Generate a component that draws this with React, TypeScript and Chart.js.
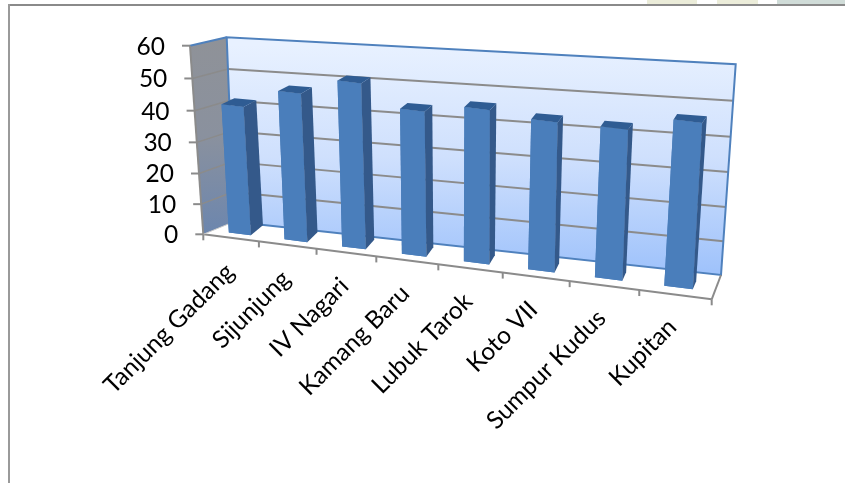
import React, { useEffect, useRef } from "react";
import { Chart, registerables } from "chart.js";

Chart.register(...registerables);

const categories = ["Tanjung Gadang", "Sijunjung", "IV Nagari", "Kamang Baru", "Lubuk Tarok", "Koto VII", "Sumpur Kudus", "Kupitan"];
const values = [41.5, 47, 51.5, 44.5, 46.5, 44.5, 44, 47.5];
const yTicks = [0, 10, 20, 30, 40, 50, 60];

type P = [number, number];
type Quad = { bl: P; br: P; tr: P; tl: P };

const floorFront: Quad = { bl: [203.3, 234.3], br: [711.7, 299.3], tr: [726.7, 82], tl: [190, 45.7] };
const wallBack: Quad = { bl: [234, 221.7], br: [721, 275], tr: [735.7, 64.3], tl: [226.7, 37.3] };
const lerp = (a: P, b: P, t: number): P => [a[0] + (b[0] - a[0]) * t, a[1] + (b[1] - a[1]) * t];
const barFront: Quad = {
  bl: lerp(floorFront.bl, wallBack.bl, 0.3),
  br: lerp(floorFront.br, wallBack.br, 0.3),
  tr: lerp(floorFront.tr, wallBack.tr, 0.3),
  tl: lerp(floorFront.tl, wallBack.tl, 0.3),
};
const add = (a: P, dx: number, dy: number): P => [a[0] + dx, a[1] + dy];
const barBack: Quad = {
  bl: add(barFront.bl, 13.5, -10),
  br: add(barFront.br, 3.3, -8),
  tr: add(barFront.tr, 3.5, -5),
  tl: add(barFront.tl, 13.5, -4),
};

function homography(q: Quad) {
  const [x0, y0] = q.bl, [x1, y1] = q.br, [x2, y2] = q.tr, [x3, y3] = q.tl;
  const dx1 = x1 - x2, dx2 = x3 - x2, sx = x0 - x1 + x2 - x3;
  const dy1 = y1 - y2, dy2 = y3 - y2, sy = y0 - y1 + y2 - y3;
  const den = dx1 * dy2 - dx2 * dy1;
  const g = (sx * dy2 - dx2 * sy) / den;
  const h = (dx1 * sy - sx * dy1) / den;
  const a = x1 - x0 + g * x1, b = x3 - x0 + h * x3, c = x0;
  const d = y1 - y0 + g * y1, e = y3 - y0 + h * y3, f = y0;
  return (u: number, v: number): P => {
    const w = g * u + h * v + 1;
    return [(a * u + b * v + c) / w, (d * u + e * v + f) / w];
  };
}
const onFront = homography(floorFront);
const onWall = homography(wallBack);
const onBarFront = homography(barFront);
const onBarBack = homography(barBack);

function poly(ctx: CanvasRenderingContext2D, pts: P[], fill?: string | CanvasGradient, stroke?: string, lw = 1) {
  ctx.beginPath();
  pts.forEach((p, i) => (i ? ctx.lineTo(p[0], p[1]) : ctx.moveTo(p[0], p[1])));
  if (fill) {
    ctx.closePath();
    ctx.fillStyle = fill;
    ctx.fill();
  }
  if (stroke) {
    ctx.strokeStyle = stroke;
    ctx.lineWidth = lw;
    ctx.stroke();
  }
}

const GRID = "#8b8b8b";
const EDGE = "#4f81bd";
const FONT = "24.5px Lato";

const walls3d = {
  id: "walls3d",
  beforeDatasetsDraw(chart: any) {
    const ctx: CanvasRenderingContext2D = chart.ctx;
    const y = chart.scales.y;
    const vOf = (val: number) => (chart.chartArea.bottom - y.getPixelForValue(val)) / chart.chartArea.height;
    ctx.save();
    const lg = ctx.createLinearGradient(0, 38, 0, 234);
    lg.addColorStop(0, "#8f9298");
    lg.addColorStop(0.5, "#8a919e");
    lg.addColorStop(1, "#6c86ae");
    poly(ctx, [floorFront.bl, wallBack.bl, wallBack.tl, floorFront.tl], lg);
    const bg = ctx.createLinearGradient(0, 45, 0, 270);
    bg.addColorStop(0, "#e8f1ff");
    bg.addColorStop(0.5, "#cfe0fd");
    bg.addColorStop(1, "#a0c3fb");
    poly(ctx, [wallBack.bl, wallBack.br, wallBack.tr, wallBack.tl], bg);
    yTicks.forEach((t) => {
      const v = vOf(t);
      if (t > 0 && t < 60) poly(ctx, [onWall(0, v), onWall(1, v)], undefined, GRID, 2);
      if (t > 0 && t < 60) poly(ctx, [onFront(0, v), onWall(0, v)], undefined, GRID, 1.5);
      const f = onFront(0, v);
      poly(ctx, [[f[0] - 8, f[1]], f], undefined, GRID, 2);
    });
    poly(ctx, [wallBack.bl, wallBack.br, wallBack.tr, wallBack.tl, wallBack.bl], undefined, EDGE, 2);
    poly(ctx, [floorFront.tl, wallBack.tl], undefined, EDGE, 2);
    poly(ctx, [floorFront.tl, floorFront.bl], undefined, GRID, 2);
    poly(ctx, [floorFront.bl, floorFront.br], undefined, GRID, 2);
    poly(ctx, [floorFront.br, wallBack.br], undefined, GRID, 2);
    poly(ctx, [floorFront.bl, wallBack.bl], undefined, "#c9c9c9", 1);
    for (let i = 0; i <= categories.length; i++) {
      const p = onFront(i / categories.length, 0);
      poly(ctx, [p, [p[0], p[1] + 6]], undefined, GRID, 2);
    }
    ctx.restore();
  },
  beforeDatasetDraw(chart: any, args: any) {
    const ctx: CanvasRenderingContext2D = chart.ctx;
    const { left, bottom, width, height } = chart.chartArea;
    const U = (x: number) => (x - left) / width;
    const V = (py: number) => (bottom - py) / height;
    ctx.save();
    args.meta.data.forEach((bar: any) => {
      const x0 = bar.x - bar.width / 2, x1 = bar.x + bar.width / 2;
      const yT = bar.y, yB = bar.base;
      const fBL = onBarFront(U(x0), V(yB)), fBR = onBarFront(U(x1), V(yB));
      const fTL = onBarFront(U(x0), V(yT));
      const fTR: P = [fBR[0] + fTL[0] - fBL[0], fBR[1] + fTL[1] - fBL[1]];
      const bBR = onBarBack(U(x1), V(yB)), bTR = onBarBack(U(x1), V(yT)), bTL = onBarBack(U(x0), V(yT));
      ctx.save();
      const sx = (fBR[0] - fBL[0]) / (x1 - x0), ky = (fBR[1] - fBL[1]) / (x1 - x0);
      const kx = (fTL[0] - fBL[0]) / (yT - yB), sy = (fTL[1] - fBL[1]) / (yT - yB);
      ctx.transform(sx, ky, kx, sy, fBL[0] - sx * x0 - kx * yB, fBL[1] - ky * x0 - sy * yB);
      bar.draw(ctx, chart.chartArea);
      ctx.restore();
      poly(ctx, [fBL, fBR, fTR, fTL], bar.options.backgroundColor);
      poly(ctx, [fBR, fTR, bTR, bBR], "#34598a");
      poly(ctx, [fTL, fTR, bTR, bTL], "#2f5c93");
    });
    ctx.restore();
    return false;
  },
  afterDatasetsDraw(chart: any) {
    const ctx: CanvasRenderingContext2D = chart.ctx;
    const n = categories.length;
    const y = chart.scales.y;
    ctx.save();
    ctx.font = FONT;
    ctx.fillStyle = "#000";
    ctx.textAlign = "right";
    ctx.textBaseline = "middle";
    chart.data.labels.forEach((label: string, i: number) => {
      const p = onFront((i + 0.5) / n, 0);
      ctx.save();
      ctx.translate(p[0] - 1 - 0.25 * i, p[1] + 30 - 0.25 * i);
      ctx.rotate(-Math.PI / 4);
      ctx.fillText(label, 0, 0);
      ctx.restore();
    });
    y.ticks.forEach((t: any) => {
      const v = (chart.chartArea.bottom - y.getPixelForValue(t.value)) / chart.chartArea.height;
      const f = onFront(0, v);
      ctx.fillText(String(t.value), f[0] - 25, f[1] + 1);
    });
    ctx.restore();
  },
};

export default function App() {
  const ref = useRef<HTMLCanvasElement>(null);
  useEffect(() => {
    const chart = new Chart(ref.current!, {
      type: "bar",
      data: {
        labels: categories,
        datasets: [{ data: values, backgroundColor: "#4a7ebb", borderWidth: 0, barPercentage: 1, categoryPercentage: 0.4 }],
      },
      options: {
        animation: false,
        responsive: false,
        events: [],
        layout: { padding: { top: 45, right: 133, bottom: 249, left: 0 } },
        plugins: { legend: { display: false }, title: { display: false }, tooltip: { enabled: false } },
        scales: {
          x: {
            ticks: { display: false },
            grid: { display: false },
            border: { display: false },
            afterFit: (s: any) => { s.height = 0; },
          },
          y: {
            min: 0,
            max: 60,
            afterBuildTicks: (s: any) => { s.ticks = yTicks.map((value) => ({ value })); },
            afterFit: (s: any) => { s.width = 203; },
            ticks: { display: false },
            grid: { display: false, drawTicks: false },
            border: { display: false },
          },
        },
      },
      plugins: [walls3d],
    } as any);
    return () => chart.destroy();
  }, []);
  const strip = (left: number, width: number, background: string) => (
    <div style={{ position: "absolute", left, width, top: 0, height: 4, background }} />
  );
  return (
    <div style={{ position: "fixed", left: 0, top: 0, width: 845, height: 483, background: "#fff", overflow: "hidden" }}>
      {strip(647, 50, "#ebecd9")}
      {strip(717, 41, "#ecedda")}
      {strip(777, 68, "#d0dcd8")}
      <div style={{ position: "absolute", left: 8, top: 4, width: 837, height: 2, background: "#8a8a8a" }} />
      <div style={{ position: "absolute", left: 8, top: 4, width: 2, height: 479, background: "#9a9a9a" }} />
      <canvas ref={ref} width={845} height={483} style={{ position: "absolute", left: 0, top: 0 }} />
    </div>
  );
}
